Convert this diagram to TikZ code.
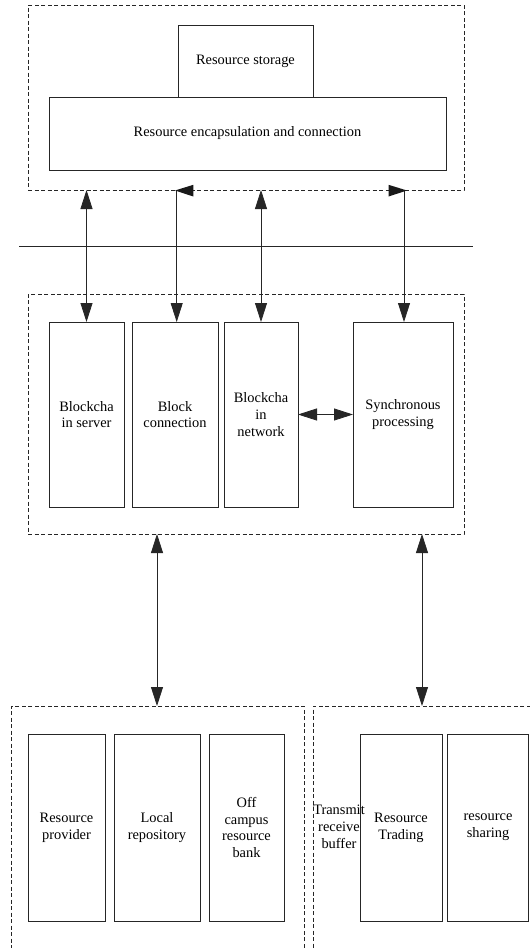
\documentclass[tikz,border=0pt]{standalone}
\usepackage{fontspec}
\setmainfont{Liberation Serif}
\usetikzlibrary{arrows.meta}
\begin{document}
\begin{tikzpicture}[x=1pt,y=-1pt,
  every node/.style={inner sep=0pt, outer sep=0pt, align=center, font=\fontsize{14.4}{16.8}\selectfont},
  solidbox/.style={draw=black!85, line width=0.8pt},
  dashbox/.style={draw=black!85, line width=0.8pt, dash pattern=on 4pt off 2.5pt},
  conn/.style={draw=black!85, line width=0.8pt},
  tipA/.style={Triangle[length=19pt,width=12pt]},
  bothtip/.style={conn, {Triangle[length=19pt,width=12pt]}-{Triangle[length=19pt,width=12pt]}},
  endtip/.style={conn, -{Triangle[length=19pt,width=12pt]}}
]
\useasboundingbox (0,0) rectangle (530,948);
\clip (0,0) rectangle (530,948);
\fill[white] (0,0) rectangle (530,948);

% top group
\node[dashbox, minimum width=436pt, minimum height=185pt] (top) at (246,97.5) {};
\node[solidbox, minimum width=135pt, minimum height=72pt] (storage) at (245.5,61) {Resource storage};
\node[solidbox, minimum width=397pt, minimum height=73pt] (encap) at (247.5,133.5) {Resource encapsulation and connection};

% separator line
\coordinate (hlA) at (19,246);
\coordinate (hlB) at (473,246);
\draw[conn] (hlA) -- (hlB);

% middle group
\node[dashbox, minimum width=436pt, minimum height=240pt] (mid) at (246,414) {};
\node[solidbox, minimum width=75pt, minimum height=185pt] (b1) at (86.5,414.5) {Blockcha\\in server};
\node[solidbox, minimum width=86pt, minimum height=185pt] (b2) at (175,414.5) {Block\\connection};
\node[solidbox, minimum width=74pt, minimum height=185pt] (b3) at (261,414.5) {Blockcha\\in\\network};
\node[solidbox, minimum width=100pt, minimum height=185pt] (b4) at (403,414.5) {Synchronous\\processing};

% bottom groups
\node[dashbox, minimum width=293pt, minimum height=254pt] (botL) at (157.5,833) {};
\node[dashbox, minimum width=232pt, minimum height=254pt] (botR) at (429,833) {};
\node[solidbox, minimum width=77pt, minimum height=187pt] (p1) at (66.5,827.5) {Resource\\provider};
\node[solidbox, minimum width=86pt, minimum height=187pt] (p2) at (157,827.5) {Local\\repository};
\node[solidbox, minimum width=75pt, minimum height=187pt] (p3) at (246.5,827.5) {Off\\campus\\resource\\bank};
\node[solidbox, minimum width=82pt, minimum height=187pt] (p4) at (401,827.5) {Resource\\Trading};
\node[solidbox, minimum width=81pt, minimum height=187pt] (p5) at (488,827.5) {resource\\sharing};
\node (buf) at (339,827) {Transmit\\receive\\buffer};

% connectors top <-> middle
\draw[bothtip] (b1.north) -- (b1.north |- top.south);
\coordinate (t2) at (176.7,190);
\draw[endtip] (t2) -- (t2 |- b2.north);
\fill[black!90] (175,190.5) -- (193.3,184.8) -- (193.3,196.5) -- cycle;
\draw[bothtip] (b3.north) -- (b3.north |- top.south);
\coordinate (t4) at (404,190);
\draw[endtip] (t4) -- (t4 |- b4.north);
\fill[black!90] (407,190.5) -- (388.5,184.8) -- (388.5,196.5) -- cycle;

% middle internal
\draw[bothtip] (b3.east) -- (b4.west);

% middle <-> bottom
\coordinate (m6) at (157,534);
\draw[bothtip] (m6) -- (m6 |- botL.north);
\coordinate (m7) at (422,534);
\draw[bothtip] (m7) -- (m7 |- botR.north);
\end{tikzpicture}
\end{document}
